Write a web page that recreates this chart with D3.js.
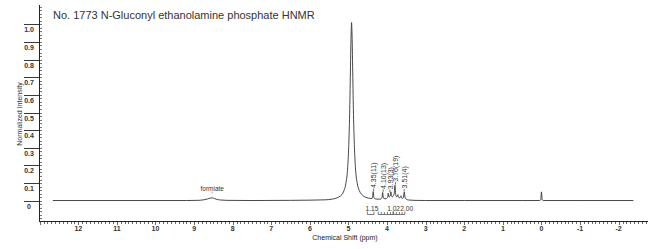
<!DOCTYPE html>
<html><head><meta charset="utf-8">
<script src="https://cdn.jsdelivr.net/npm/d3@7"></script>
<style>html,body{margin:0;padding:0;background:#fff;overflow:hidden}svg{display:block}</style>
</head><body><svg id="c" width="650" height="249"></svg>
<script>
const title = "No. 1773 N-Gluconyl ethanolamine phosphate HNMR";
const xLabel = "Chemical Shift (ppm)";
const yLabel = "Normalized Intensity";
const xTickValues = [12, 11, 10, 9, 8, 7, 6, 5, 4, 3, 2, 1, 0, -1, -2];
const yTickValues = [0, 0.1, 0.2, 0.3, 0.4, 0.5, 0.6, 0.7, 0.8, 0.9, 1.0];
const yTickLabels = ["0", "0.1", "0.2", "0.3", "0.4", "0.5", "0.6", "0.7", "0.8", "0.9", "1.0"];

const spectrumPpm = [12.66, 9.2, 8.9, 8.75, 8.65, 8.58, 8.53, 8.48, 8.42, 8.32, 8.15, 7.5, 6.5, 6.0, 5.6, 5.42, 5.22, 5.12, 5.07, 5.02, 4.995, 4.97, 4.95, 4.94, 4.93, 4.92, 4.91, 4.90, 4.89, 4.87, 4.845, 4.82, 4.77, 4.72, 4.62, 4.52, 4.44, 4.39, 4.375, 4.36, 4.345, 4.32, 4.26, 4.18, 4.145, 4.128, 4.115, 4.10, 4.08, 4.03, 3.995, 3.98, 3.97, 3.958, 3.935, 3.915, 3.90, 3.885, 3.86, 3.835, 3.815, 3.795, 3.778, 3.755, 3.735, 3.72, 3.705, 3.68, 3.655, 3.64, 3.625, 3.60, 3.575, 3.555, 3.535, 3.50, 3.44, 3.3, 3.0, 2.0, 0.5, 0.05, 0.02, 0.0, -0.02, -0.05, -1.0, -2.38];
const spectrumIntensity = [0.001, 0.001, 0.002, 0.005, 0.010, 0.015, 0.016, 0.013, 0.008, 0.004, 0.002, 0.001, 0.002, 0.003, 0.005, 0.009, 0.025, 0.055, 0.095, 0.19, 0.30, 0.49, 0.73, 0.86, 0.96, 1.01, 0.96, 0.86, 0.73, 0.49, 0.30, 0.19, 0.095, 0.058, 0.028, 0.017, 0.013, 0.013, 0.022, 0.052, 0.022, 0.012, 0.009, 0.009, 0.013, 0.022, 0.047, 0.021, 0.012, 0.011, 0.016, 0.024, 0.042, 0.024, 0.022, 0.032, 0.05, 0.026, 0.022, 0.03, 0.04, 0.088, 0.036, 0.022, 0.026, 0.034, 0.02, 0.016, 0.02, 0.028, 0.016, 0.013, 0.02, 0.05, 0.02, 0.008, 0.004, 0.002, 0.001, 0.001, 0.001, 0.001, 0.004, 0.05, 0.004, 0.001, 0.001, 0.001];

const peakLabelPpm = [4.36, 4.115, 3.94, 3.795, 3.57];
const peakLabelTop = [0.052, 0.047, 0.045, 0.088, 0.05];
const peakLabels = ["4.35(11)", "4.10(13)", "3.93(3)", "3.76(19)", "3.51(4)"];

const formiatePpm = 8.53;
const formiateLabel = "formiate";

const integralStart = [4.51, 4.23, 3.84];
const integralEnd = [4.34, 3.84, 3.54];
const integralValues = ["1.15", "1.02", "2.00"];
const integralLabelPpm = [4.39, 3.83, 3.49];
const integralSubTicks = [4.15, 4.07, 3.99, 3.91, 3.76, 3.68, 3.61];

const svg = d3.select("#c");
const x = d3.scaleLinear().domain([13, -2.75]).range([39.7, 647.6]);
const y = d3.scaleLinear().domain([0, 1]).range([200.7, 24.3]);
const ink = "#222";
const font = "'Liberation Sans', Arial, sans-serif";

// title
svg.append("text").attr("x", 53).attr("y", 19).attr("font-family", font)
  .attr("font-size", 11).attr("fill", "#333").text(title);

// y axis
svg.append("line").attr("x1", 39.5).attr("x2", 39.5).attr("y1", 5).attr("y2", 221.5)
  .attr("stroke", ink).attr("stroke-width", 1);
const yMinor = d3.range(-0.1, 1.101, 0.02);
svg.append("g").selectAll("line").data(yMinor).join("line")
  .attr("x1", 40).attr("x2", 42).attr("y1", d => Math.round(y(d)) + 0.5).attr("y2", d => Math.round(y(d)) + 0.5)
  .attr("stroke", "#555").attr("stroke-width", 0.8);
const yt = svg.append("g").selectAll("g").data(yTickValues).join("g");
yt.append("line").attr("x1", 24).attr("x2", 39.5)
  .attr("y1", d => Math.round(y(d)) + 0.5).attr("y2", d => Math.round(y(d)) + 0.5)
  .attr("stroke", ink).attr("stroke-width", 0.9);
yt.append("text").attr("x", 29).attr("y", d => y(d) + 5.5).attr("dominant-baseline", "central")
  .attr("text-anchor", "middle").attr("font-family", font).attr("font-size", 7).attr("font-weight", "bold")
  .attr("fill", "#333").text((d, i) => yTickLabels[i]);
svg.append("text").attr("transform", "translate(19,114) rotate(-90)").attr("text-anchor", "middle")
  .attr("dominant-baseline", "central").attr("font-family", font).attr("font-size", 7).attr("fill", "#333").text(yLabel);

// x axis
svg.append("line").attr("x1", 39).attr("x2", 648).attr("y1", 221.5).attr("y2", 221.5)
  .attr("stroke", ink).attr("stroke-width", 1);
const xMinor = d3.range(-27, 131).map(v => v / 10);
svg.append("g").selectAll("line").data(xMinor).join("line")
  .attr("x1", d => Math.round(x(d)) + 0.5).attr("x2", d => Math.round(x(d)) + 0.5)
  .attr("y1", 222).attr("y2", d => Math.abs(d - Math.round(d)) < 1e-6 ? 225 : 224)
  .attr("stroke", "#444").attr("stroke-width", 0.8);
svg.append("g").selectAll("text").data(xTickValues).join("text")
  .attr("x", d => x(d)).attr("y", 228).attr("dominant-baseline", "central").attr("text-anchor", "middle")
  .attr("font-family", font).attr("font-size", 7).attr("font-weight", "bold").attr("fill", "#333").text(d => d);
svg.append("text").attr("x", 345).attr("y", 237.5).attr("dominant-baseline", "central").attr("text-anchor", "middle")
  .attr("font-family", font).attr("font-size", 7).attr("fill", "#222").text(xLabel);

// spectrum
const pts = spectrumPpm.map((p, i) => [p, spectrumIntensity[i]]);
const line = d3.line().x(d => x(d[0])).y(d => y(d[1])).curve(d3.curveMonotoneX);
svg.append("path").attr("d", line(pts)).attr("fill", "none").attr("stroke", "#333").attr("stroke-width", 0.9);

// formiate label
svg.append("text").attr("x", x(formiatePpm)).attr("y", 188.5).attr("dominant-baseline", "central")
  .attr("text-anchor", "middle").attr("font-family", font).attr("font-size", 6.5).attr("fill", "#333").text(formiateLabel);
svg.append("line").attr("x1", x(formiatePpm)).attr("x2", x(formiatePpm)).attr("y1", 191.5).attr("y2", 193.5)
  .attr("stroke", "#777").attr("stroke-width", 0.6);

// peak labels
const pl = svg.append("g").selectAll("g").data(peakLabelPpm).join("g");
pl.append("line").attr("x1", d => x(d) + 0.5).attr("x2", d => x(d) + 0.5)
  .attr("y1", (d, i) => y(peakLabelTop[i]) - 0.5).attr("y2", (d, i) => y(peakLabelTop[i]) - 3)
  .attr("stroke", "#333").attr("stroke-width", 0.7);
pl.append("text").attr("transform", (d, i) => `translate(${x(d) + 0.8},${y(peakLabelTop[i]) - 3.5}) rotate(-90)`)
  .attr("dominant-baseline", "central").attr("font-family", font).attr("font-size", 7).attr("fill", "#333")
  .text((d, i) => peakLabels[i]);

// integrals
const ig = svg.append("g").selectAll("g").data(integralStart).join("g");
ig.append("path").attr("d", (d, i) => `M${x(d)},211.5V214.5H${x(integralEnd[i])}V211.5`)
  .attr("fill", "none").attr("stroke", "#444").attr("stroke-width", 0.7);
svg.append("g").selectAll("line").data(integralSubTicks).join("line")
  .attr("x1", d => x(d)).attr("x2", d => x(d)).attr("y1", 212).attr("y2", 214.5)
  .attr("stroke", "#444").attr("stroke-width", 0.7);
svg.append("g").selectAll("text").data(integralLabelPpm).join("text")
  .attr("x", d => x(d)).attr("y", 208.5).attr("dominant-baseline", "central").attr("text-anchor", "middle")
  .attr("font-family", font).attr("font-size", 6.6).attr("fill", "#333").text((d, i) => integralValues[i]);
</script></body></html>
